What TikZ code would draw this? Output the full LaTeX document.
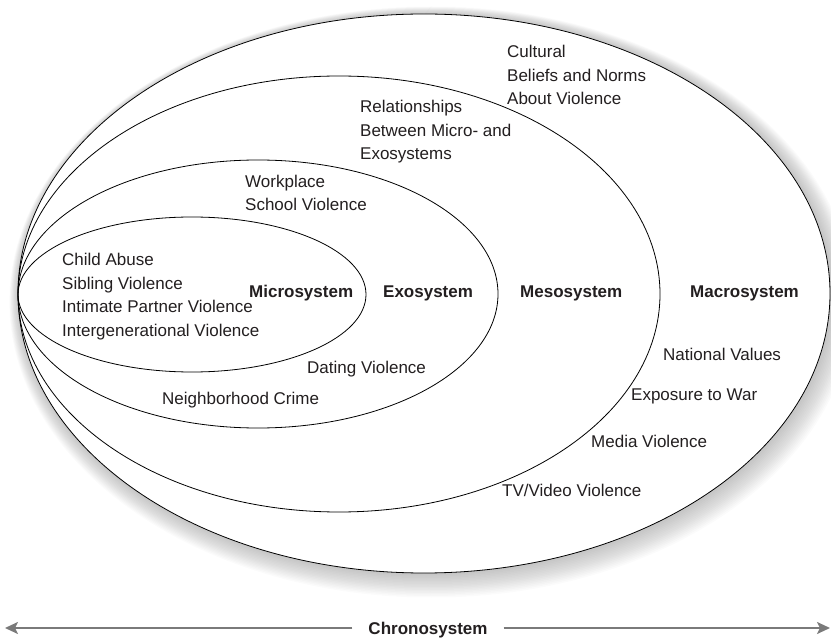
\documentclass[tikz,border=0pt]{standalone}
\usepackage{fontspec}
\setmainfont{Liberation Sans}
\usepackage{xcolor}
\usetikzlibrary{arrows.meta}
\definecolor{TextDark}{HTML}{231F20}
\definecolor{ArrowGray}{HTML}{7A7A7A}

\begin{document}
\begin{tikzpicture}[x=1pt,y=-1pt,
    every node/.style={font=\fontsize{17}{23.5}\selectfont, text=TextDark, inner sep=0pt},
    ring/.style={draw=black, line width=0.8pt},
    lst/.style={anchor=west, align=left},
    sys/.style={anchor=west, font=\fontsize{17}{23.5}\selectfont\bfseries},
    ar/.style={-{Stealth[length=13pt,width=12pt,inset=3pt]}, ArrowGray, line width=2.2pt}]
  \useasboundingbox (0,0) rectangle (831,639);
  % shadow round the outer ring
  \foreach \s in {1,...,16}
    \fill[black, opacity=0.016] (425+0.4*\s,294+0.5*\s) ellipse [x radius=406pt+\s pt, y radius=279.5pt+\s pt];
  \fill[white] (424,293.5) ellipse [x radius=406pt, y radius=279.5pt];
  % rings
  \draw[ring] (424,293.5) ellipse [x radius=406pt, y radius=279.5pt];
  \draw[ring] (339,294) ellipse [x radius=321pt, y radius=218pt];
  \draw[ring] (258,294) ellipse [x radius=240pt, y radius=134pt];
  \draw[ring] (192,294.5) ellipse [x radius=174pt, y radius=77.5pt];
  % system names
  \node[sys] (micro) at (249,293) {Microsystem};
  \node[sys] (exo) at (383,293) {Exosystem};
  \node[sys] (meso) at (520,293) {Mesosystem};
  \node[sys] (macro) at (690,293) {Macrosystem};
  % examples
  \node[lst] (cult) at (507,75) {Cultural\\Beliefs and Norms\\About Violence};
  \node[lst] (rel) at (360,132) {Relationships\\Between Micro- and\\Exosystems};
  \node[lst] (work) at (245,193) {Workplace\\School Violence};
  \node[lst] (child) at (62,296.5) {Child Abuse\\Sibling Violence\\Intimate Partner Violence\\Intergenerational Violence};
  \node[lst] (dating) at (307,369) {Dating Violence};
  \node[lst] (hood) at (162,400) {Neighborhood Crime};
  \node[lst] (natl) at (663,354) {National Values};
  \node[lst] (war) at (631,396) {Exposure to War};
  \node[lst] (media) at (591,441) {Media Violence};
  \node[lst] (tv) at (502,490) {TV/Video Violence};
  % time axis
  \node[sys, anchor=center, inner xsep=16pt] (chrono) at (428,630) {Chronosystem};
  \coordinate (pastend) at (5,628);
  \coordinate (futend) at (830,628);
  \draw[ar] (chrono.west |- pastend) -- (pastend);
  \draw[ar] (chrono.east |- futend) -- (futend);
\end{tikzpicture}
\end{document}
